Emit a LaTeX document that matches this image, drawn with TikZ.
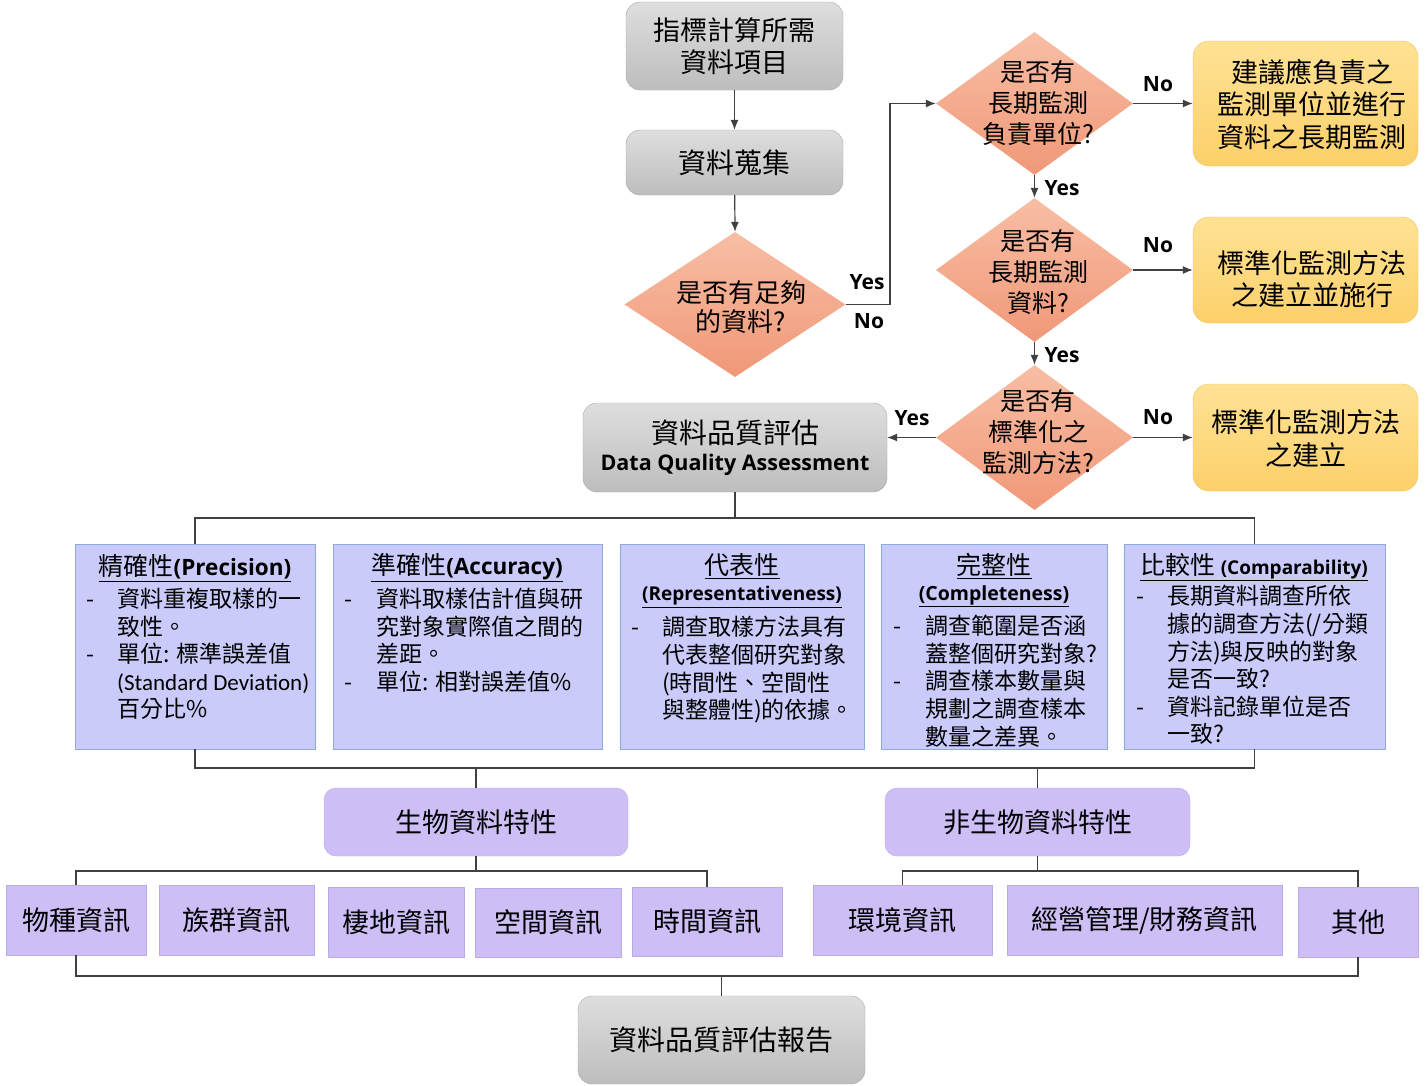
\documentclass[tikz,border=0pt]{standalone}
\usepackage{fontspec}
\setmainfont{Noto Sans CJK TC}
\newfontfamily\lat{Open Sans}
\newfontfamily\calfont{Carlito}
\usetikzlibrary{shapes.geometric,arrows.meta}
\definecolor{gtop}{HTML}{DEDEDE}
\definecolor{gbot}{HTML}{BDBDBD}
\definecolor{gline}{HTML}{A8A8A8}
\definecolor{dtop}{HTML}{F8BEA4}
\definecolor{dbot}{HTML}{F09878}
\definecolor{otop}{HTML}{FFE295}
\definecolor{obot}{HTML}{FCD06A}
\definecolor{oline}{HTML}{F3C65A}
\definecolor{qfill}{HTML}{CACBFA}
\definecolor{qline}{HTML}{8EA9DB}
\definecolor{pfill}{HTML}{CDBEF6}
\definecolor{pline}{HTML}{B9AAEA}
\definecolor{lncol}{HTML}{404040}
\tikzset{
  grayb/.style={rounded corners=14pt, draw=gline, top color=gtop, bottom color=gbot, inner sep=0pt, align=center},
  diam/.style={diamond, inner sep=0pt, top color=dtop, bottom color=dbot, draw=none},
  dtext/.style={align=center, inner sep=0pt, font=\fontsize{25}{31}\selectfont},
  oranb/.style={rounded corners=16pt, draw=oline, top color=otop, bottom color=obot, inner sep=0pt, align=center, font=\fontsize{27}{32.5}\selectfont},
  qbox/.style={draw=qline, fill=qfill, inner sep=0pt},
  qtitle/.style={inner sep=0pt, font=\fontsize{25}{30}\selectfont},
  qlist/.style={anchor=north west, inner sep=0pt, font=\fontsize{23}{27.5}\selectfont},
  pbox/.style={rounded corners=12pt, draw=pline, fill=pfill, inner sep=0pt, font=\fontsize{27}{32}\selectfont},
  leaf/.style={draw=pline, fill=pfill, inner sep=0pt, font=\fontsize{27}{32}\selectfont},
  lbl/.style={inner sep=0pt, font=\lat\bfseries\fontsize{21}{21}\selectfont},
  ln/.style={draw=lncol, line width=1.2pt},
  arr/.style={ln, -{Latex[length=10pt,width=8pt]}},
}
\begin{document}
\begin{tikzpicture}[x=1pt,y=-1pt]
\useasboundingbox (0,0) rectangle (1427,1085);
\fill[white] (0,0) rectangle (1427,1085);

% top column
\node[grayb, minimum width=217pt, minimum height=88pt, font=\fontsize{27}{32}\selectfont] (t1) at (734.5,46) {指標計算所需\\資料項目};
\node[grayb, minimum width=217pt, minimum height=65pt, font=\fontsize{28}{32}\selectfont] (t2) at (734.5,162.5) {資料蒐集};
\node[diam, minimum width=221pt, minimum height=145pt] (d1) at (735,304.5) {};
\node[dtext, font=\fontsize{26}{29}\selectfont] (d1t) at (741,307.5) {是否有足夠\\的資料?};

% right diamonds
\node[diam, minimum width=197pt, minimum height=143pt] (d2) at (1034.5,103.5) {};
\node[dtext] (d2t) at (1038,103) {是否有\\長期監測\\負責單位?};
\node[diam, minimum width=197pt, minimum height=144pt] (d3) at (1034.5,270) {};
\node[dtext] (d3t) at (1038,271.5) {是否有\\長期監測\\資料?};
\node[diam, minimum width=197pt, minimum height=145pt] (d4) at (1034.5,437.5) {};
\node[dtext] (d4t) at (1038,432) {是否有\\標準化之\\監測方法?};

% orange boxes
\node[oranb, minimum width=225pt, minimum height=125pt] (o1) at (1305.5,103.5) {};
\node[inner sep=0pt, align=center, font=\fontsize{27}{32.5}\selectfont] (o1t) at (1312,104.5) {建議應負責之\\監測單位並進行\\資料之長期監測};
\node[oranb, minimum width=225pt, minimum height=106pt] (o2) at (1305.5,270) {};
\node[inner sep=0pt, align=center, font=\fontsize{27}{32.5}\selectfont] (o2t) at (1312,279) {標準化監測方法\\之建立並施行};
\node[oranb, minimum width=225pt, minimum height=107pt] (o3) at (1305.5,437.5) {};
\node[inner sep=0pt, align=center, font=\fontsize{27}{32.5}\selectfont] (o3t) at (1306,438.5) {標準化監測方法\\之建立};

% DQA
\node[grayb, minimum width=304pt, minimum height=89pt] (dqa) at (735,447.5) {{\fontsize{28}{34}\selectfont 資料品質評估}\\[7pt]{\lat\bfseries\fontsize{21.5}{24}\selectfont Data Quality Assessment}};

% arrows top part
\draw[arr] (t1) -- (t2);
\draw[arr] (t2) -- (d1.north);
\coordinate (j1) at (890,200);
\draw[arr] (d1.east) -- (d1.east -| j1) |- (d2.west);
\node[lbl] (yes1) at (867,282) {Yes};
\node[lbl] (no1) at (869,321) {No};
\draw[arr] (d2.south) -- (d3.north);
\node[lbl] (yes2) at (1062,188) {Yes};
\draw[arr] (d3.south) -- (d4.north);
\node[lbl] (yes3) at (1062,355) {Yes};
\draw[arr] (d2.east) -- (o1.west);
\node[lbl] (no2) at (1158,84) {No};
\draw[arr] (d3.east) -- (o2.west);
\node[lbl] (no3) at (1158,245) {No};
\draw[arr] (d4.east) -- (o3.west);
\node[lbl] (no4) at (1158,417) {No};
\draw[arr] (d4.west) -- (d4.west -| dqa.east);
\node[lbl] (yes4) at (912,418) {Yes};

% quality boxes
\node[qbox, minimum width=240pt, minimum height=205pt] (b1) at (195,646.5) {};
\node[qbox, minimum width=269pt, minimum height=205pt] (b2) at (467.5,646.5) {};
\node[qbox, minimum width=244pt, minimum height=205pt] (b3) at (742,646.5) {};
\node[qbox, minimum width=226pt, minimum height=205pt] (b4) at (994,646.5) {};
\node[qbox, minimum width=261pt, minimum height=205pt] (b5) at (1254.5,646.5) {};

\node[qtitle] (b1h) at (195,568) {\underline{精確性{\lat\bfseries\fontsize{22.5}{22}\selectfont(Precision)}}};
\node[qlist] (b1l) at (86,588) {\begin{tabular}{@{}p{31pt}@{}l@{}}
-&資料重複取樣的一\\
 &致性。\\
-&單位: 標準誤差值\\
 &{\calfont\fontsize{23}{27.5}\selectfont (Standard Deviation)}\\
 &百分比\%
\end{tabular}};

\node[qtitle] (b2h) at (467,568) {\underline{準確性{\lat\bfseries\fontsize{22.5}{22}\selectfont(Accuracy)}}};
\node[qlist] (b2l) at (344,588) {\begin{tabular}{@{}p{32pt}@{}l@{}}
-&資料取樣估計值與研\\
 &究對象實際值之間的\\
 &差距。\\
-&單位: 相對誤差值\%
\end{tabular}};

\node[qtitle] (b3h) at (742,566) {\underline{代表性}};
\node[qtitle] (b3e) at (742,597) {\underline{\lat\bfseries\fontsize{19}{19}\selectfont(Representativeness)}};
\node[qlist] (b3l) at (631,616) {\begin{tabular}{@{}p{31pt}@{}l@{}}
-&調查取樣方法具有\\
 &代表整個研究對象\\
 &(時間性、空間性\\
 &與整體性)的依據。
\end{tabular}};

\node[qtitle] (b4h) at (994,566) {\underline{完整性}};
\node[qtitle] (b4e) at (994,596) {\underline{\lat\bfseries\fontsize{19.5}{19}\selectfont(Completeness)}};
\node[qlist] (b4l) at (893,615) {\begin{tabular}{@{}p{32pt}@{}l@{}}
-&調查範圍是否涵\\
 &蓋整個研究對象?\\
-&調查樣本數量與\\
 &規劃之調查樣本\\
 &數量之差異。
\end{tabular}};

\node[qtitle] (b5h) at (1254,567) {\underline{比較性 {\lat\bfseries\fontsize{19}{19}\selectfont(Comparability)}}};
\node[qlist] (b5l) at (1136,585) {\begin{tabular}{@{}p{31pt}@{}l@{}}
-&長期資料調查所依\\
 &據的調查方法(/分類\\
 &方法)與反映的對象\\
 &是否一致?\\
-&資料記錄單位是否\\
 &一致?
\end{tabular}};

% tree lines DQA -> boxes
\coordinate (h1) at (0,518);
\draw[ln] (dqa.south) -- (dqa.south |- h1);
\draw[ln] (b1.north) -- (b1.north |- h1) -- (b5.north |- h1) -- (b5.north);

% bio / nonbio
\node[pbox, minimum width=304pt, minimum height=68pt] (bio) at (476,822) {生物資料特性};
\node[pbox, minimum width=305pt, minimum height=68pt] (nbio) at (1037.5,822) {非生物資料特性};
\coordinate (h2) at (0,768);
\draw[ln] (b1.south) -- (b1.south |- h2) -- (b5.south |- h2) -- (b5.south);
\draw[ln] (bio.north) -- (bio.north |- h2);
\draw[ln] (nbio.north) -- (nbio.north |- h2);

% leaves
\node[leaf, minimum width=140pt, minimum height=70pt] (l1) at (76,920) {物種資訊};
\node[leaf, minimum width=155pt, minimum height=70pt] (l2) at (236.5,920) {族群資訊};
\node[leaf, minimum width=136pt, minimum height=70pt] (l3) at (396,922) {棲地資訊};
\node[leaf, minimum width=146pt, minimum height=69pt] (l4) at (548,922.5) {空間資訊};
\node[leaf, minimum width=150pt, minimum height=69pt] (l5) at (707,921.5) {時間資訊};
\node[leaf, minimum width=179pt, minimum height=70pt] (l6) at (902.5,920) {環境資訊};
\node[leaf, minimum width=275pt, minimum height=70pt] (l7) at (1144.5,920) {經營管理/財務資訊};
\node[leaf, minimum width=120pt, minimum height=70pt] (l8) at (1358,922) {其他};

\coordinate (h3) at (0,871);
\draw[ln] (bio.south) -- (bio.south |- h3);
\draw[ln] (l1.north) -- (l1.north |- h3) -- (l5.north |- h3) -- (l5.north);
\draw[ln] (nbio.south) -- (nbio.south |- h3);
\draw[ln] (l6.north) -- (l6.north |- h3) -- (l8.north |- h3) -- (l8.north);

% report
\node[grayb, minimum width=287pt, minimum height=88pt, font=\fontsize{28}{32}\selectfont] (rep) at (721.5,1040) {資料品質評估報告};
\coordinate (h4) at (0,976);
\draw[ln] (l1.south) -- (l1.south |- h4) -- (l8.south |- h4) -- (l8.south);
\draw[ln] (rep.north) -- (rep.north |- h4);
\end{tikzpicture}
\end{document}
